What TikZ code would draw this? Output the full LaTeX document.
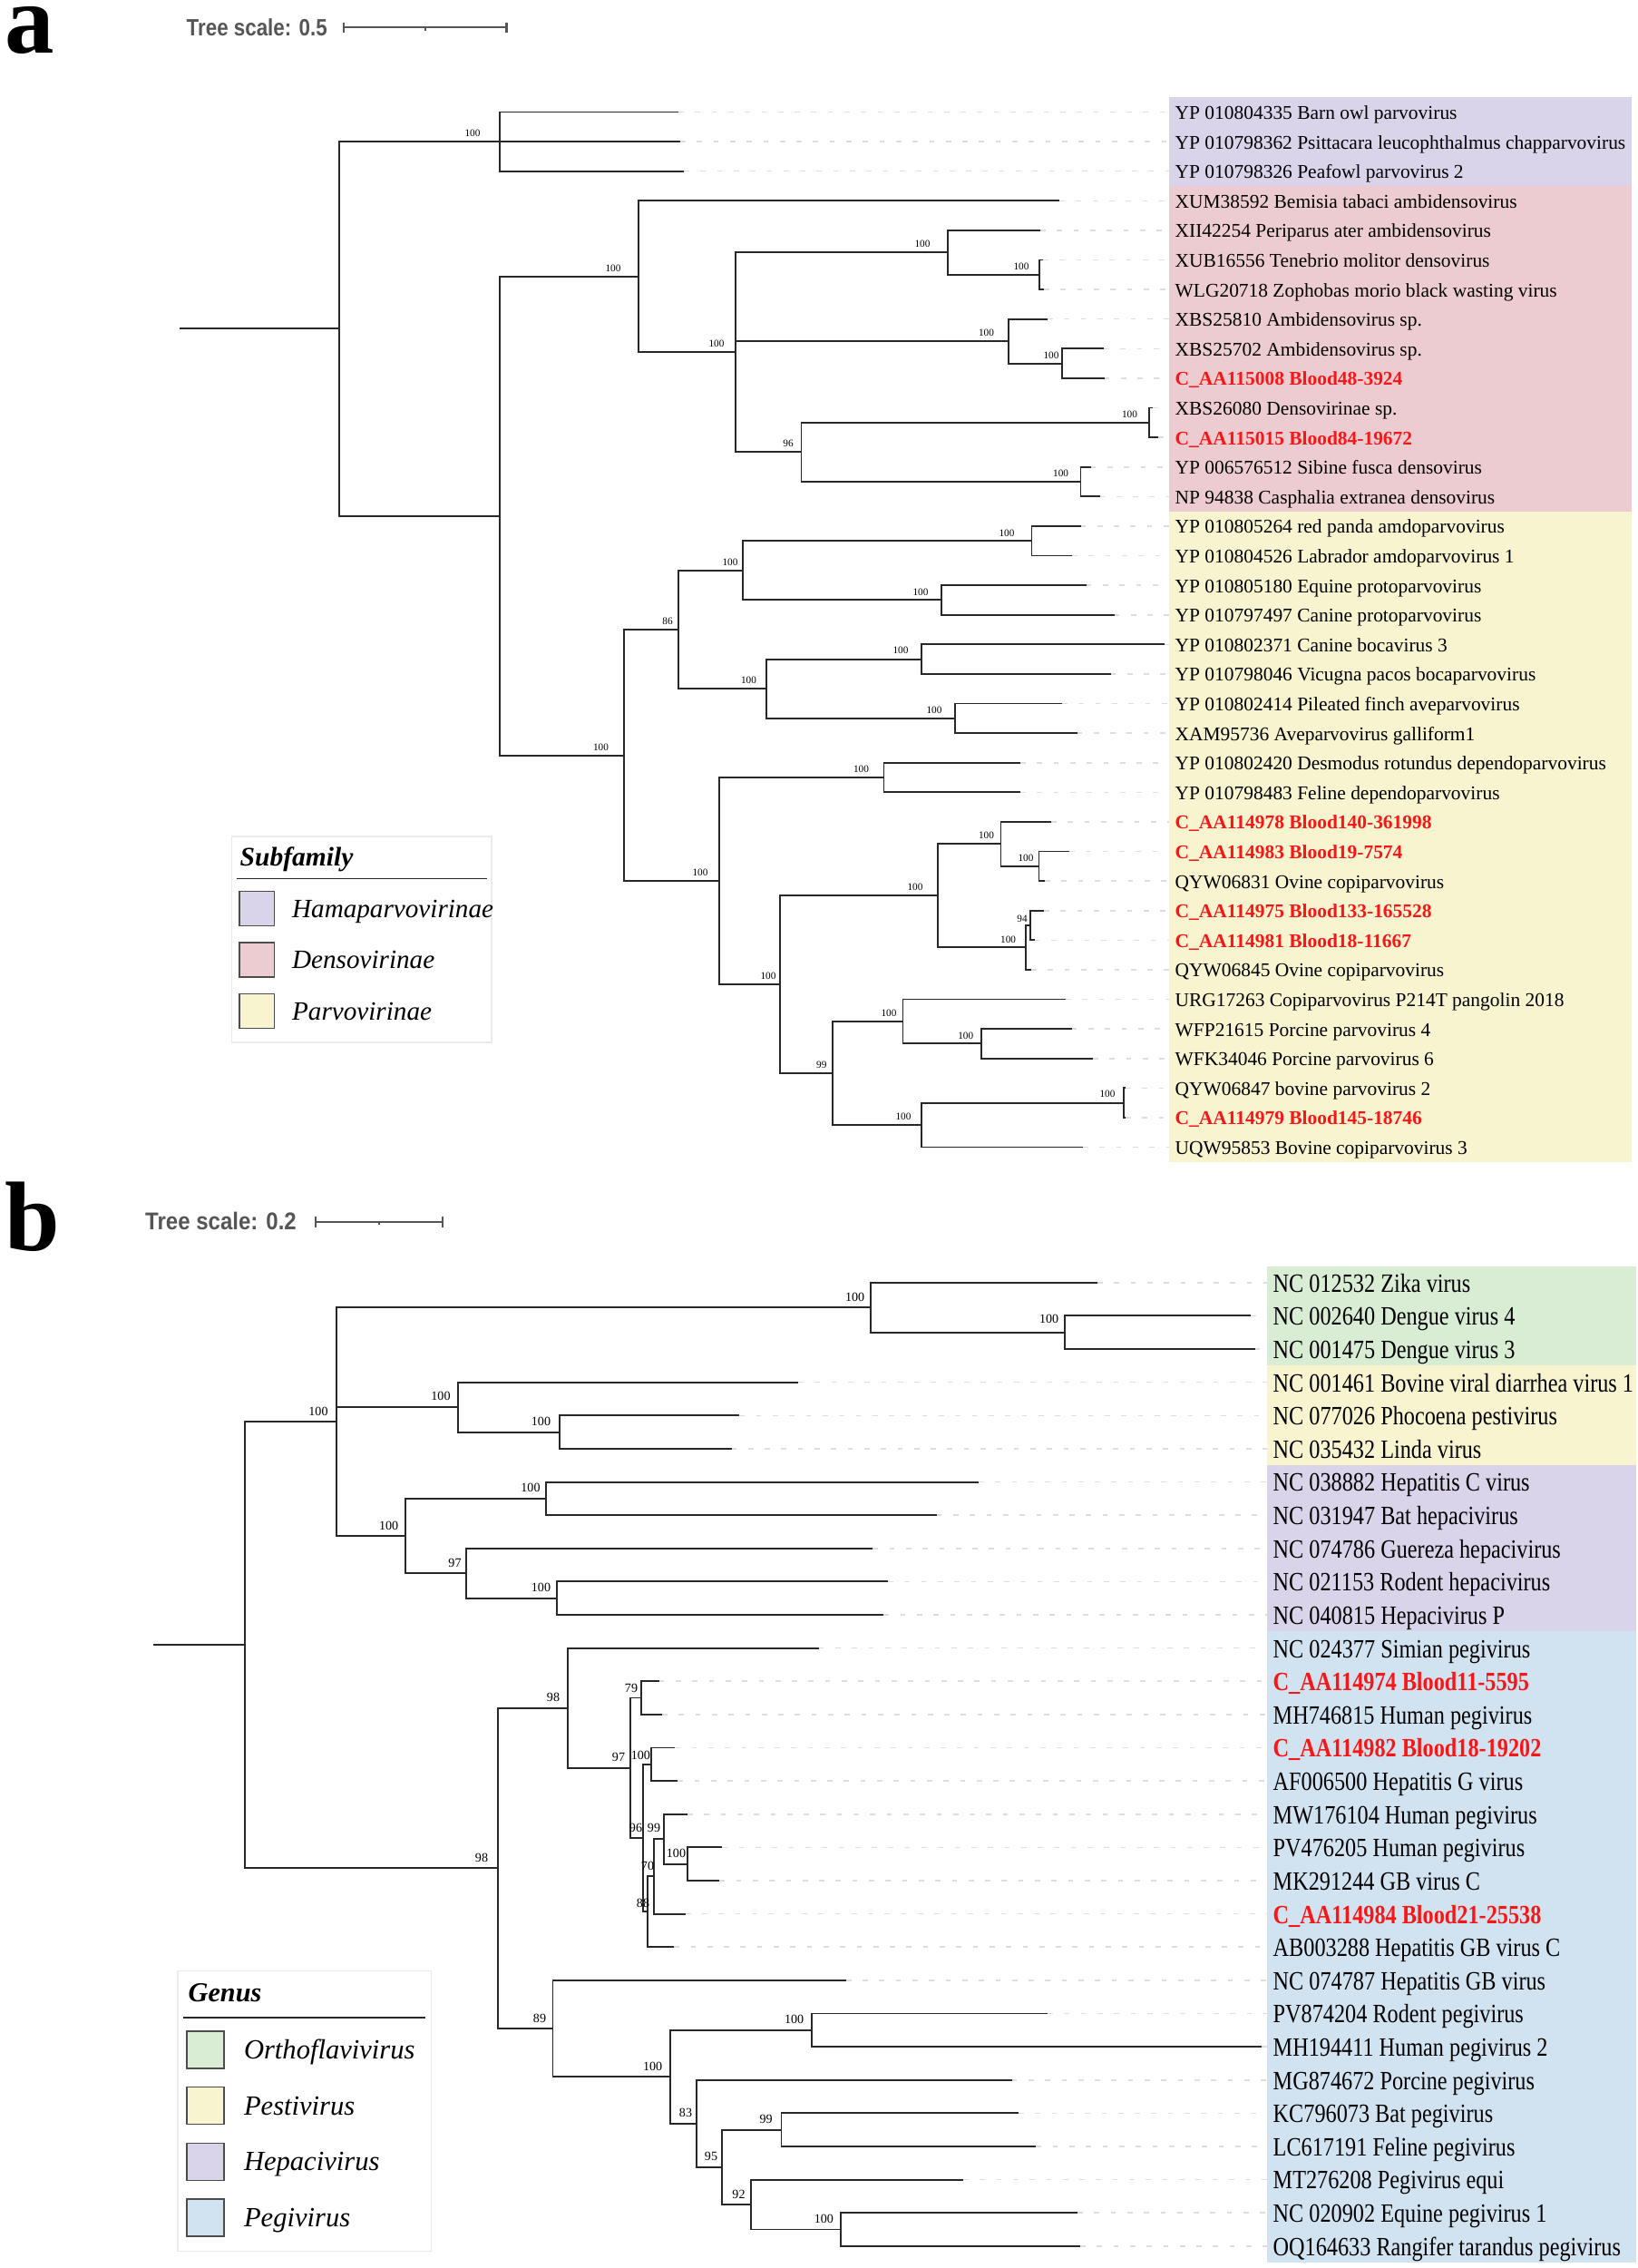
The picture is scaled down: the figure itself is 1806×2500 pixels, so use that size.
\documentclass[tikz,border=0pt]{standalone}
\usepackage{fontspec}
\setmainfont{Liberation Serif}
\newfontfamily\tsfont{Liberation Sans}
\usetikzlibrary{calc}

\definecolor{hama}{RGB}{217,212,234}
\definecolor{denso}{RGB}{237,204,209}
\definecolor{parvo}{RGB}{248,244,207}
\definecolor{ortho}{RGB}{216,237,212}
\definecolor{pegi}{RGB}{209,227,240}
\definecolor{novelred}{RGB}{250,22,22}
\definecolor{treeline}{RGB}{40,40,40}
\definecolor{guidegray}{RGB}{222,222,222}
\definecolor{scalegray}{RGB}{85,85,85}

\begin{document}
\begin{tikzpicture}[x=0.1mm, y=-0.1mm,
    branch/.style={draw=treeline, line width=0.55pt},
    guide/.style={draw=guidegray, line width=0.45pt, dash pattern=on 0.57mm off 1.26mm},
    leafa/.style={font=\fontsize{6.1}{7}\selectfont, anchor=west, inner sep=0pt, text height=2mm, text depth=0.42mm},
    novela/.style={leafa, text=novelred, font=\fontsize{6.1}{7}\selectfont\bfseries},
    leafb/.style={font=\fontsize{6.9}{8}\selectfont, anchor=west, inner sep=0pt, text height=2.5mm, text depth=0.42mm},
    novelb/.style={leafb, text=novelred, font=\fontsize{6.9}{8}\selectfont\bfseries},
    boota/.style={font=\fontsize{3.2}{3.5}\selectfont, inner sep=0pt},
    bootb/.style={font=\fontsize{4}{4.5}\selectfont, inner sep=0pt},
    panel/.style={font=\fontsize{31}{31}\selectfont\bfseries, anchor=base west, inner sep=0pt},
    scaletext/.style={font=\tsfont\bfseries, text=scalegray, anchor=west, inner sep=0pt},
    scalebar/.style={draw=scalegray, line width=0.6pt},
    legframe/.style={draw=black!8, line width=0.4pt},
    legrule/.style={draw=black!85, line width=0.5pt},
    legtitle/.style={font=\fontsize{8.4}{9}\selectfont\bfseries\itshape, anchor=base west, inner sep=0pt},
    legtext/.style={font=\fontsize{8.3}{9}\selectfont\itshape, anchor=base west, inner sep=0pt},
    swatch/.style={draw=black!70, line width=0.4pt, inner sep=0pt}
  ]
  \useasboundingbox (0,0) rectangle (1806,2500);

  % ---------------- panel a
  \node[panel] (pa) at (5,58) {a};
  \node[scaletext] (tsa) at (205,30) {\fontsize{7.4}{8}\selectfont\scalebox{0.86}[1]{Tree scale: 0.5}};
  \coordinate (sa0) at (379,30);
  \coordinate (sa1) at (558.5,30);
  \draw[scalebar] (sa0) -- (sa1);
  \draw[scalebar] ([yshift=0.55mm]sa0) -- ([yshift=-0.55mm]sa0);
  \draw[scalebar] ([yshift=0.55mm]sa1) -- ([yshift=-0.55mm]sa1);
  \draw[scalebar] ($(sa0)!0.5!(sa1)$) -- ++(0,3.5);

  \fill[hama] (1289,107.2) rectangle (1799,205);
  \fill[denso] (1289,205) rectangle (1799,563.6);
  \fill[parvo] (1289,563.6) rectangle (1799,1280.8);

  \foreach \e/\s/\t [count=\i] in {
      748/leafa/YP 010804335 Barn owl parvovirus,
      750/leafa/YP 010798362 Psittacara leucophthalmus chapparvovirus,
      754/leafa/YP 010798326 Peafowl parvovirus 2,
      1168/leafa/XUM38592 Bemisia tabaci ambidensovirus,
      1147/leafa/XII42254 Periparus ater ambidensovirus,
      1150/leafa/XUB16556 Tenebrio molitor densovirus,
      1151/leafa/WLG20718 Zophobas morio black wasting virus,
      1155/leafa/XBS25810 Ambidensovirus sp.,
      1217/leafa/XBS25702 Ambidensovirus sp.,
      1217.5/novela/C\_AA115008 Blood48-3924,
      1271/leafa/XBS26080 Densovirinae sp.,
      1277/novela/C\_AA115015 Blood84-19672,
      1202.6/leafa/YP 006576512 Sibine fusca densovirus,
      1212.5/leafa/NP 94838 Casphalia extranea densovirus,
      1191.5/leafa/YP 010805264 red panda amdoparvovirus,
      1182/leafa/YP 010804526 Labrador amdoparvovirus 1,
      1197.7/leafa/YP 010805180 Equine protoparvovirus,
      1228.5/leafa/YP 010797497 Canine protoparvovirus,
      1284/leafa/YP 010802371 Canine bocavirus 3,
      1224.5/leafa/YP 010798046 Vicugna pacos bocaparvovirus,
      1171/leafa/YP 010802414 Pileated finch aveparvovirus,
      1187.5/leafa/XAM95736 Aveparvovirus galliform1,
      1125/leafa/YP 010802420 Desmodus rotundus dependoparvovirus,
      1125/leafa/YP 010798483 Feline dependoparvovirus,
      1159/novela/C\_AA114978 Blood140-361998,
      1179/novela/C\_AA114983 Blood19-7574,
      1152/leafa/QYW06831 Ovine copiparvovirus,
      1151/novela/C\_AA114975 Blood133-165528,
      1140.6/novela/C\_AA114981 Blood18-11667,
      1137/leafa/QYW06845 Ovine copiparvovirus,
      1175/leafa/URG17263 Copiparvovirus P214T pangolin 2018,
      1181.7/leafa/WFP21615 Porcine parvovirus 4,
      1205/leafa/WFK34046 Porcine parvovirus 6,
      1241/leafa/QYW06847 bovine parvovirus 2,
      1241/novela/C\_AA114979 Blood145-18746,
      1194/leafa/UQW95853 Bovine copiparvovirus 3} {
    \pgfmathsetmacro\yy{123.5+(\i-1)*32.6}
    \coordinate (a\i) at (\e,\yy);
    \coordinate (ga\i) at (1289,\yy);
    \draw[guide] (a\i) -- (ga\i);
    \node[\s] (ta\i) at (1295,\yy) {\t};
  }

  \coordinate (aroot) at (197.5,362.4);
  \coordinate (aR) at (374,362.4);
  \coordinate (aH) at (551,156.1);
  \coordinate (aX) at (551,568.7);
  \coordinate (aD) at (704,304.85);
  \coordinate (aD2) at (811,388.4);
  \coordinate (aD3) at (1045,278.35);
  \coordinate (aD4) at (1146,302.8);
  \coordinate (aD5) at (1112,376.15);
  \coordinate (aD6) at (1171,400.6);
  \coordinate (aD7) at (883.5,498.4);
  \coordinate (aD8) at (1267,465.8);
  \coordinate (aD9) at (1191.5,531);
  \coordinate (aP) at (688,832.55);
  \coordinate (aP1) at (748,694);
  \coordinate (aP2) at (819,628.8);
  \coordinate (aP3) at (844.6,759.2);
  \coordinate (aP4) at (792.8,971.1);
  \coordinate (aP5) at (860,1085.2);
  \coordinate (aP6) at (1137.5,596.2);
  \coordinate (aP7) at (1038,661.4);
  \coordinate (aP8) at (1016,726.6);
  \coordinate (aP9) at (1052.7,791.8);
  \coordinate (aP10) at (974.5,857);
  \coordinate (aP11) at (1034,987.4);
  \coordinate (aP12) at (1103.5,930.35);
  \coordinate (aP13) at (1145.5,954.8);
  \coordinate (aP14) at (1130.8,1044.45);
  \coordinate (aP15) at (1135.7,1020);
  \coordinate (aP16) at (918,1183);
  \coordinate (aP17) at (995.5,1125.95);
  \coordinate (aP18) at (1015.6,1240.05);
  \coordinate (aP19) at (1081.7,1150.4);
  \coordinate (aP20) at (1239,1215.6);

  \draw[branch] (aroot) -- (aR);
  \foreach \p/\c in {aR/aH, aR/aX, aH/a1, aH/a2, aH/a3, aX/aD, aX/aP,
      aD/a4, aD/aD2, aD2/aD3, aD2/aD5, aD2/aD7, aD3/a5, aD3/aD4, aD4/a6, aD4/a7,
      aD5/a8, aD5/aD6, aD6/a9, aD6/a10, aD7/aD8, aD7/aD9, aD8/a11, aD8/a12,
      aD9/a13, aD9/a14, aP/aP1, aP/aP4, aP1/aP2, aP1/aP3, aP2/aP6, aP2/aP7,
      aP6/a15, aP6/a16, aP7/a17, aP7/a18, aP3/aP8, aP3/aP9, aP8/a19, aP8/a20,
      aP9/a21, aP9/a22, aP4/aP10, aP4/aP5, aP10/a23, aP10/a24, aP5/aP11, aP5/aP16,
      aP11/aP12, aP11/aP14, aP12/a25, aP12/aP13, aP13/a26, aP13/a27,
      aP14/aP15, aP14/a30, aP15/a28, aP15/a29, aP16/aP17, aP16/aP18,
      aP17/a31, aP17/aP19, aP19/a32, aP19/a33, aP18/aP20, aP18/a36,
      aP20/a34, aP20/a35}
    \draw[branch] (\p) |- (\c);

  \foreach \x/\y/\t [count=\i] in {521/147/100, 676/296/100, 790/379/100,
      1017/269/100, 1126/294/100, 1087.5/367/100, 1159/392/100, 869/489/96,
      1245.5/457/100, 1169.6/522/100, 662.5/823.5/100, 736/685/86, 805/619.6/100,
      1110/587.5/100, 1015/652.7/100, 825.5/750/100, 993/717/100, 1030/782.6/100,
      772/962/100, 949.5/847.8/100, 847/1076/100, 1009/978/100, 1087.5/921/100,
      1131/946/100, 1111.6/1035.7/100, 1127/1013/94, 905.8/1174/99, 980/1117/100,
      1064.7/1142/100, 1221/1206/100, 996/1231/100}
    \node[boota] (ba\i) at (\x,\y) {\t};

  \draw[legframe] (255.4,922) rectangle (542,1149);
  \node[legtitle] (suba) at (264,954) {Subfamily};
  \draw[legrule] (261,968.4) -- (536.7,968.4);
  \foreach \c/\t/\y [count=\i] in {hama/Hamaparvovirinae/1001.5,
      denso/Densovirinae/1057.9, parvo/Parvovirinae/1114.7} {
    \node[swatch, fill=\c, minimum width=3.85mm, minimum height=3.8mm] (swa\i) at (283.2,\y) {};
    \node[legtext] (lga\i) at (321.4,\y+9.5) {\t};
  }

  % ---------------- panel b
  \node[panel] (pb) at (5,1378) {b};
  \node[scaletext] (tsb) at (159.5,1346) {\fontsize{7.6}{8}\selectfont\scalebox{0.9}[1]{Tree scale: 0.2}};
  \coordinate (sb0) at (348,1346.6);
  \coordinate (sb1) at (488,1346.6);
  \draw[scalebar] (sb0) -- (sb1);
  \draw[scalebar] ([yshift=0.6mm]sb0) -- ([yshift=-0.6mm]sb0);
  \draw[scalebar] ([yshift=0.6mm]sb1) -- ([yshift=-0.6mm]sb1);
  \draw[scalebar] ($(sb0)!0.5!(sb1)$) -- ++(0,3.5);

  \fill[ortho] (1396.5,1395.5) rectangle (1804,1505.35);
  \fill[parvo] (1396.5,1505.35) rectangle (1804,1615.2);
  \fill[hama] (1396.5,1615.2) rectangle (1804,1798.3);
  \fill[pegi] (1396.5,1798.3) rectangle (1804,2494.1);

  \foreach \e/\s/\t [count=\i] in {
      1210/leafb/NC 012532 Zika virus,
      1379/leafb/NC 002640 Dengue virus 4,
      1383.5/leafb/NC 001475 Dengue virus 3,
      880/leafb/NC 001461 Bovine viral diarrhea virus 1,
      815.4/leafb/NC 077026 Phocoena pestivirus,
      806.5/leafb/NC 035432 Linda virus,
      1079/leafb/NC 038882 Hepatitis C virus,
      1032.7/leafb/NC 031947 Bat hepacivirus,
      962.3/leafb/NC 074786 Guereza hepacivirus,
      979/leafb/NC 021153 Rodent hepacivirus,
      974.3/leafb/NC 040815 Hepacivirus P,
      902.6/leafb/NC 024377 Simian pegivirus,
      726.7/novelb/C\_AA114974 Blood11-5595,
      730/leafb/MH746815 Human pegivirus,
      744.3/novelb/C\_AA114982 Blood18-19202,
      747.4/leafb/AF006500 Hepatitis G virus,
      758/leafb/MW176104 Human pegivirus,
      796.4/leafb/PV476205 Human pegivirus,
      793.3/leafb/MK291244 GB virus C,
      755.8/novelb/C\_AA114984 Blood21-25538,
      743.2/leafb/AB003288 Hepatitis GB virus C,
      932.8/leafb/NC 074787 Hepatitis GB virus,
      1155/leafb/PV874204 Rodent pegivirus,
      1391/leafb/MH194411 Human pegivirus 2,
      1115.6/leafb/MG874672 Porcine pegivirus,
      1123/leafb/KC796073 Bat pegivirus,
      1142.4/leafb/LC617191 Feline pegivirus,
      1062/leafb/MT276208 Pegivirus equi,
      1188/leafb/NC 020902 Equine pegivirus 1,
      1191/leafb/OQ164633 Rangifer tarandus pegivirus} {
    \pgfmathsetmacro\yy{1413.8+(\i-1)*36.62}
    \coordinate (b\i) at (\e,\yy);
    \coordinate (gb\i) at (1396.5,\yy);
    \draw[guide] (b\i) -- (gb\i);
    \node[\s] (tb\i) at (1403,\yy) {\scalebox{1}[1.2]{\t}};
  }

  \coordinate (broot) at (169,1813.3);
  \coordinate (bN0) at (270,1813.3);
  \coordinate (bN1) at (370.7,1567.1);
  \coordinate (bN2) at (960,1441.25);
  \coordinate (bN3) at (1173.7,1468.7);
  \coordinate (bN4) at (504.7,1551.15);
  \coordinate (bN5) at (617,1578.6);
  \coordinate (bN6) at (446.6,1693);
  \coordinate (bN7) at (602,1651.8);
  \coordinate (bN8) at (514,1734.25);
  \coordinate (bN9) at (613.8,1761.7);
  \coordinate (bN10) at (549.4,2059.4);
  \coordinate (bN11) at (626.4,1882.7);
  \coordinate (bN12) at (695,1948.8);
  \coordinate (bN13) at (706.8,1871.5);
  \coordinate (bN14) at (708.7,2026);
  \coordinate (bN15) at (717.9,1944.8);
  \coordinate (bN16) at (713.7,2107.3);
  \coordinate (bN17) at (721,2068.4);
  \coordinate (bN18) at (731.7,2027.2);
  \coordinate (bN19) at (758,2054.7);
  \coordinate (bN20) at (609.5,2236);
  \coordinate (bN21) at (739,2289.25);
  \coordinate (bN22) at (894.6,2237.75);
  \coordinate (bN23) at (768,2340.75);
  \coordinate (bN24) at (796,2388.8);
  \coordinate (bN25) at (861.5,2347.6);
  \coordinate (bN26) at (828.3,2430);
  \coordinate (bN27) at (927,2457.5);

  \draw[branch] (broot) -- (bN0);
  \foreach \p/\c in {bN0/bN1, bN0/bN10, bN1/bN2, bN1/bN4, bN1/bN6,
      bN2/b1, bN2/bN3, bN3/b2, bN3/b3, bN4/b4, bN4/bN5, bN5/b5, bN5/b6,
      bN6/bN7, bN6/bN8, bN7/b7, bN7/b8, bN8/b9, bN8/bN9, bN9/b10, bN9/b11,
      bN10/bN11, bN10/bN20, bN11/b12, bN11/bN12, bN12/bN13, bN12/bN14,
      bN13/b13, bN13/b14, bN14/bN15, bN14/bN16, bN15/b15, bN15/b16,
      bN16/bN17, bN16/b21, bN17/bN18, bN17/b20, bN18/b17, bN18/bN19,
      bN19/b18, bN19/b19, bN20/b22, bN20/bN21, bN21/bN22, bN21/bN23,
      bN22/b23, bN22/b24, bN23/b25, bN23/bN24, bN24/bN25, bN24/bN26,
      bN25/b26, bN25/b27, bN26/b28, bN26/bN27, bN27/b29, bN27/b30}
    \draw[branch] (\p) |- (\c);

  \foreach \x/\y/\t [count=\i] in {351/1556/100, 942.7/1429.6/100, 1156.7/1454/100,
      486/1539/100, 596.5/1567/100, 428.7/1681.5/100, 585/1640/100, 501.5/1722.5/97,
      596.5/1750/100, 531/2047.7/98, 610/1870.7/98, 682/1936.7/97, 696/1861/79,
      701/2015/96, 706.4/1935/100, 709/2098/88, 714/2056.7/70, 721/2015/99,
      745.5/2043/100, 595/2224.7/89, 719.7/2277.7/100, 875.7/2226/100, 756/2329/83,
      784/2377/95, 844.6/2336/99, 814.5/2418.7/92, 908.4/2446/100}
    \node[bootb] (bb\i) at (\x,\y) {\t};

  \draw[legframe] (195.9,2172.7) rectangle (475.4,2481.3);
  \node[legtitle, font=\fontsize{8.6}{9}\selectfont\bfseries\itshape] (genb) at (207,2206.7) {Genus};
  \draw[legrule] (202,2224) -- (468.8,2224);
  \foreach \c/\t/\y [count=\i] in {ortho/Orthoflavivirus/2259.4, parvo/Pestivirus/2321,
      hama/Hepacivirus/2382.7, pegi/Pegivirus/2444.3} {
    \node[swatch, fill=\c, minimum width=4.1mm, minimum height=4.1mm] (swb\i) at (226.5,\y) {};
    \node[legtext, font=\fontsize{8.7}{9}\selectfont\itshape] (lgb\i) at (268.3,\y+10) {\t};
  }
\end{tikzpicture}
\end{document}
